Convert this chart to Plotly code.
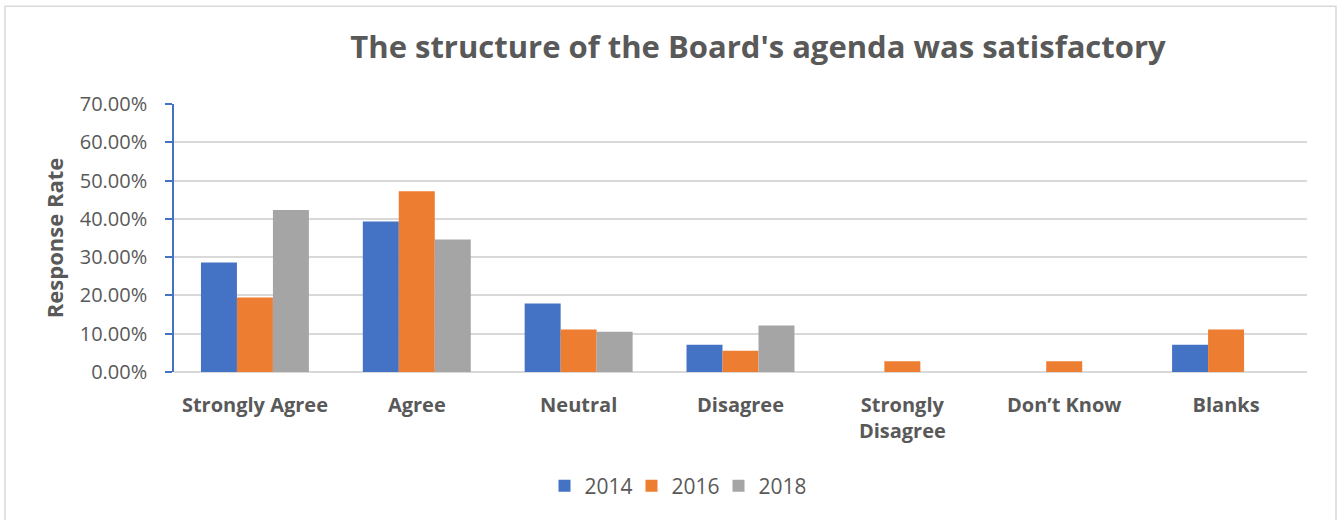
import plotly.graph_objects as go

categories = ["Strongly Agree", "Agree", "Neutral", "Disagree", "Strongly<br>Disagree", "Don\u2019t Know", "Blanks"]
years = ["2014", "2016", "2018"]
values_2014 = [0.2857, 0.3929, 0.1786, 0.0714, 0.0, 0.0, 0.0714]
values_2016 = [0.1944, 0.4722, 0.1111, 0.0556, 0.0278, 0.0278, 0.1111]
values_2018 = [0.4231, 0.3462, 0.1053, 0.1212, 0.0, 0.0, 0.0]
colors = ["#4472C4", "#ED7D31", "#A5A5A5"]
y_ticks = [0, 0.1, 0.2, 0.3, 0.4, 0.5, 0.6, 0.7]

FONT = "Open Sans"
TXT = "#595959"

fig = go.Figure()
for name, vals, c in zip(years, [values_2014, values_2016, values_2018], colors):
    fig.add_trace(go.Bar(
        x=categories, y=vals, name=name,
        marker=dict(color=c, line=dict(width=0)),
    ))

fig.update_layout(
    width=1338, height=520,
    paper_bgcolor="white", plot_bgcolor="white",
    barmode="group", bargap=0.333, bargroupgap=0,
    margin=dict(l=174, r=31, t=104, b=147.5),
    font=dict(family=FONT, color=TXT),
    title=dict(text="<b>The structure of the Board's agenda was satisfactory</b>",
               x=758 / 1338, xanchor="center", xref="container",
               y=1 - 47 / 520, yanchor="middle", yref="container",
               font=dict(size=31, color=TXT, family=FONT)),
    showlegend=True,
    legend=dict(orientation="h", x=(675 - 174) / 1133, xanchor="center", y=-0.426, yanchor="middle",
                font=dict(size=21, color=TXT, family=FONT), itemwidth=30,
                entrywidth=42, entrywidthmode="pixels",
                traceorder="normal"),
    xaxis=dict(showgrid=False, showline=False, ticks="",
               tickfont=dict(size=20, color=TXT, family=FONT),
               tickprefix="<b>", ticksuffix="</b>", ticklabelstandoff=19),
    yaxis=dict(range=[0, 0.7], tickvals=y_ticks, tickformat=".2%",
               showgrid=True, gridcolor="#D9D9D9", gridwidth=1.5,
               zeroline=True, zerolinecolor="#D9D9D9", zerolinewidth=1.5,
               showline=True, linecolor="#4472C4", linewidth=1.5,
               ticks="outside", tickcolor="#4472C4", ticklen=7, tickwidth=1.5,
               ticklabelstandoff=14,
               tickfont=dict(size=20, color=TXT, family=FONT),
               title=dict(text="<b>Response Rate</b>", standoff=10,
                          font=dict(size=22, color=TXT, family=FONT)),
               automargin=False),
    shapes=[dict(type="rect", xref="paper", yref="paper",
                 x0=(5 - 174) / 1133, x1=(1336 - 174) / 1133,
                 y0=-0.6, y1=(372.5 - 6) / 268.5,
                 line=dict(color="#D9D9D9", width=1.5), fillcolor="rgba(0,0,0,0)", layer="below")],
)

fig.write_html("out.html", config={"displayModeBar": False},
               post_script="document.body.style.margin='0';document.body.style.overflow='hidden';")
